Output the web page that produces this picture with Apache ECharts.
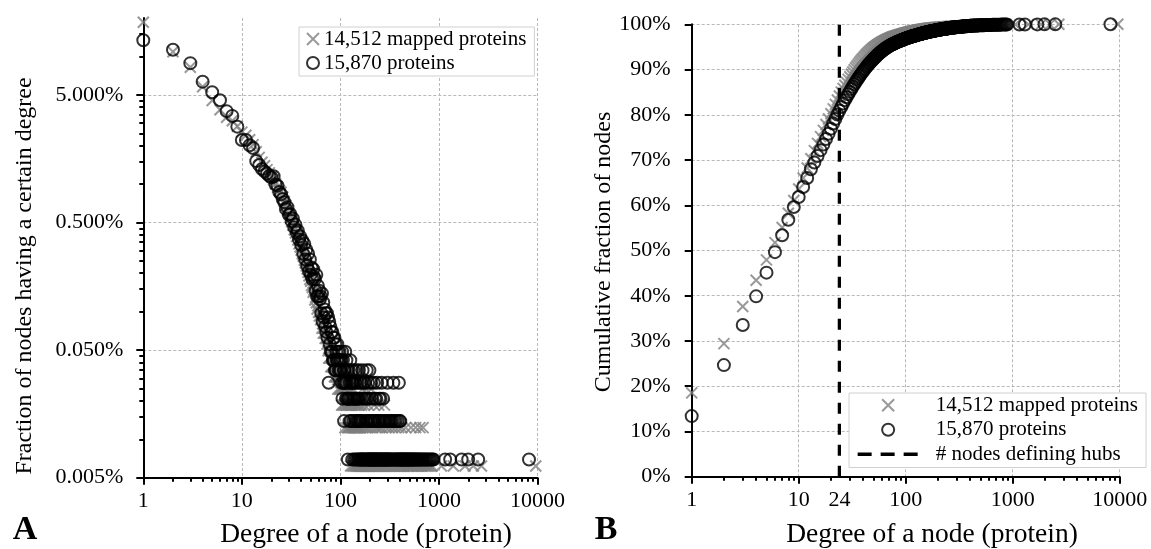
<!DOCTYPE html>
<html><head><meta charset="utf-8">
<script src="https://cdn.jsdelivr.net/npm/echarts@6/dist/echarts.min.js"></script>
<style>html,body{margin:0;padding:0;background:#fff}#c{width:1151px;height:549px}</style>
</head><body><div id="c"></div>
<script>
const FONT = "'Liberation Serif','Times New Roman',serif";
const NAME_MAPPED = '14,512 mapped proteins';
const NAME_ALL = '15,870 proteins';
const NAME_HUB = '# nodes defining hubs';
const X_TICKS = [1, 10, 100, 1000, 10000];
const X_LABELS_B = [1, 10, 24, 100, 1000, 10000];
const Y_TICKS_A = [0.005, 0.05, 0.5, 5];
const Y_TICKS_B = [0, 10, 20, 30, 40, 50, 60, 70, 80, 90, 100];
const HUB_DEGREE = 24;

// number of proteins (circles) having degree 1..160
const allCountsLow = [
 1930,1625,1277,914,755,653,537,493,406,319,
 319,290,276,218,203,189,181,174,167,162,
 166,143,140,125,120,110,104,92,95,83,
 84,74,77,66,69,60,62,53,56,48,
 52,41,49,37,44,33,41,30,37,28,
 32,26,31,27,26,21,28,19,23,19,
 21,18,19,14,20,12,17,13,15,11,
 14,10,14,9,13,4,12,8,11,7,
 10,7,10,6,9,6,9,5,8,5,
 7,6,8,6,7,5,6,7,5,6,
 5,6,4,7,3,6,4,5,2,4,5,7,4,3,6,4,3,5,1,3,
 3,5,4,2,3,6,4,2,3,5,4,1,3,4,2,5,3,1,4,3,
 2,4,1,3,5,2,3,1,4,2,3,1,2,5,1,3,2,4,1,2
];
// degrees above 160, grouped by number of proteins (circles)
const allRow5 = [168,185,197];
const allRow4 = [163,172,178,191,205,218,236,262,300,345,392];
const allRow3 = [166,175,182,188,199,210,224,231,248,256,271];
const allRow2 = [161,170,180,186,194,202,208,215,221,228,240,245,252,266,276,284,295,310,318,326,337,352,365,381,398,405];
const allRow1 = [162,164,167,169,173,176,179,183,187,189,192,195,198,200,203,206,209,212,214,217,
 219,223,226,229,233,235,238,242,246,250,254,258,260,264,268,273,278,281,287,290,
 293,298,303,306,313,316,321,329,333,340,348,356,361,369,374,385,389,395,402,409,
 414,420,427,433,440,446,453,461,468,475,483,491,499,508,516,524,533,542,551,561,
 571,582,594,606,618,631,645,660,676,692,709,727,746,766,787,810,835,862,880,
 1155,1300,1700,1980,2500,8200];

// number of mapped proteins (crosses) having degree 1..160
const mappedCountsLow = [
 3000,1762,1333,936,730,619,540,508,460,413,
 390,360,330,290,262,240,225,210,198,186,
 174,163,153,144,140,128,118,110,101,95,
 88,82,77,71,67,63,59,55,52,49,
 46,44,41,39,37,35,33,31,29,28,
 26,25,23,24,20,21,19,17,18,16,
 15,16,14,15,12,13,11,12,11,10,
 11,10,9,10,8,7,9,7,8,6,
 7,6,7,6,6,7,5,6,5,6,
 5,6,5,4,5,5,4,5,4,5,
 4,5,3,4,6,3,4,5,3,4,2,4,5,3,3,4,2,3,4,2,
 3,2,4,3,2,3,1,4,2,3,2,3,1,2,4,2,1,3,2,2,
 2,1,3,2,1,2,3,1,2,2,1,3,1,2,1,2,3,1,2,1
];
const mappedRow4 = [168,182,205];
const mappedRow3 = [164,175,192,220,245,280];
const mappedRow2 = [161,170,179,186,197,210,226,238,252,265,290,310,335,360,390,420,460,520,580,640,690];
const mappedRow1 = [162,163,166,167,171,173,176,177,180,183,185,188,190,193,195,199,201,204,207,212,
 214,217,222,224,229,232,235,241,243,248,250,255,258,262,268,271,275,284,287,294,
 299,304,315,320,328,341,347,354,366,372,378,384,396,403,410,415,427,434,442,449,
 468,476,485,494,503,512,530,541,552,563,593,607,622,655,671,708,727,748,770,795,
 820,850,1060,1400,1840,2230,2700,9600];

function collect(low, rows) {
  const pts = [];
  low.forEach((c, i) => { if (c > 0) pts.push([i + 1, c]); });
  rows.forEach(([c, list]) => list.forEach(d => pts.push([d, c])));
  pts.sort((a, b) => a[0] - b[0]);
  return pts;
}
function fractionData(pts) {
  const S = pts.reduce((s, p) => s + p[1], 0);
  return pts.map(p => [p[0], p[1] / S * 100]);
}
function cumulativeData(pts) {
  const S = pts.reduce((s, p) => s + p[1], 0);
  let acc = 0;
  return pts.map(p => { acc += p[1]; return [p[0], acc / S * 100]; });
}
function minorLog(majors, max) {
  const out = [];
  majors.forEach(m => { for (let k = 2; k <= 9; k++) { const v = +(m * k).toPrecision(6); if (v <= max) out.push(v); } });
  return out;
}
const allPts = collect(allCountsLow, [[5, allRow5], [4, allRow4], [3, allRow3], [2, allRow2], [1, allRow1]]);
const mappedPts = collect(mappedCountsLow, [[4, mappedRow4], [3, mappedRow3], [2, mappedRow2], [1, mappedRow1]]);
const X_MINOR = minorLog([1, 10, 100, 1000], 10000);
const Y_MINOR_A = minorLog(Y_TICKS_A, 15);

const CROSS = 'path://M0,0L10,10M10,0L0,10';
function gridLine() { return { show: true, showMinLine: false, lineStyle: { color: '#b8b8b8', width: 1, type: [3, 2] } }; }
function axLine() { return { show: true, onZero: false, lineStyle: { color: '#000', width: 2 } }; }
function hiddenLine() { return { show: true, onZero: false, lineStyle: { color: 'rgba(0,0,0,0)', width: 1 } }; }
function label(extra) { return Object.assign({ color: '#000', fontSize: 22, fontFamily: FONT }, extra); }
function tick(len, values) { return { show: true, inside: false, length: len, customValues: values, lineStyle: { color: '#000', width: 2 } }; }
const plain = v => String(Math.round(v));

const crossStyle = { color: 'transparent', borderColor: '#808080', borderWidth: 2 };
const ringStyle = { color: 'transparent', borderColor: '#000', borderWidth: 2 };

const option = {
  animation: false,
  textStyle: { fontFamily: FONT },
  grid: [
    { left: 143.3, right: 613.5, top: 18, bottom: 71.3, outerBoundsMode: 'none', containLabel: false },
    { left: 691.7, right: 31.3, top: 24.3, bottom: 72.3, outerBoundsMode: 'none', containLabel: false }
  ],
  xAxis: [
    { type: 'log', logBase: 10, gridIndex: 0, position: 'bottom', min: 1, max: 10000, axisLine: axLine(),
      axisTick: tick(7, X_TICKS), axisLabel: label({ customValues: X_TICKS, margin: 13, formatter: plain }),
      splitLine: gridLine(), minorTick: { show: false } },
    { type: 'log', logBase: 10, gridIndex: 0, position: 'bottom', min: 1, max: 10000, axisLine: hiddenLine(),
      axisTick: tick(4, X_MINOR), axisLabel: { show: false }, splitLine: { show: false } },
    { type: 'log', logBase: 10, gridIndex: 1, position: 'bottom', min: 1, max: 10000, axisLine: axLine(),
      axisTick: tick(7, X_TICKS), axisLabel: label({ customValues: X_LABELS_B, margin: 13, formatter: plain }),
      splitLine: gridLine(), minorTick: { show: false } },
    { type: 'log', logBase: 10, gridIndex: 1, position: 'bottom', min: 1, max: 10000, axisLine: hiddenLine(),
      axisTick: tick(4, X_MINOR), axisLabel: { show: false }, splitLine: { show: false } }
  ],
  yAxis: [
    { type: 'log', logBase: 10, gridIndex: 0, position: 'left', min: 0.005, max: 20, axisLine: axLine(),
      axisTick: tick(7, Y_TICKS_A),
      axisLabel: label({ customValues: Y_TICKS_A, margin: 20, formatter: v => Number(v).toFixed(3) + '%' }),
      splitLine: gridLine(), minorTick: { show: false } },
    { type: 'log', logBase: 10, gridIndex: 0, position: 'left', min: 0.005, max: 20, axisLine: hiddenLine(),
      axisTick: tick(4, Y_MINOR_A), axisLabel: { show: false }, splitLine: { show: false } },
    { type: 'value', gridIndex: 1, position: 'left', min: 0, max: 100, interval: 10, axisLine: axLine(),
      axisTick: tick(7, Y_TICKS_B),
      axisLabel: label({ customValues: Y_TICKS_B, margin: 21, formatter: '{value}%' }),
      splitLine: gridLine() }
  ],
  legend: [
    { orient: 'vertical', left: 299, top: 27, padding: [0, 8, 1, 7], itemGap: 0, itemWidth: 12, itemHeight: 12,
      selectedMode: false, borderColor: '#d0d0d0', borderWidth: 1, backgroundColor: '#fff', symbolKeepAspect: true,
      textStyle: { color: '#000', fontSize: 21, fontFamily: FONT, lineHeight: 24 },
      data: [ { name: NAME_MAPPED, icon: CROSS, itemStyle: crossStyle },
              { name: NAME_ALL, icon: 'circle', itemStyle: ringStyle } ] },
    { orient: 'vertical', left: 849, top: 393, padding: [0, 8, 1, 7], itemGap: 0, itemWidth: 61, itemHeight: 12,
      selectedMode: false, borderColor: '#d0d0d0', borderWidth: 1, backgroundColor: '#fff', symbolKeepAspect: true,
      textStyle: { color: '#000', fontSize: 21, fontFamily: FONT, lineHeight: 24.5, padding: [0, 0, 0, 12] },
      data: [ { name: NAME_MAPPED, icon: CROSS, itemStyle: crossStyle },
              { name: NAME_ALL, icon: 'circle', itemStyle: ringStyle },
              { name: NAME_HUB, itemStyle: { color: 'transparent', borderColor: 'transparent', borderWidth: 0, opacity: 0 },
                lineStyle: { color: '#000', width: 3.3, type: [14, 9] } } ] }
  ],
  series: [
    { name: NAME_MAPPED, type: 'scatter', xAxisIndex: 0, yAxisIndex: 0, symbol: CROSS, symbolSize: 11, symbolKeepAspect: true,
      itemStyle: crossStyle, data: fractionData(mappedPts), silent: true },
    { name: NAME_ALL, type: 'scatter', xAxisIndex: 0, yAxisIndex: 0, symbol: 'circle', symbolSize: 12,
      itemStyle: ringStyle, data: fractionData(allPts), silent: true },
    { name: NAME_MAPPED, type: 'scatter', xAxisIndex: 2, yAxisIndex: 2, symbol: CROSS, symbolSize: 11, symbolKeepAspect: true,
      itemStyle: crossStyle, data: cumulativeData(mappedPts), silent: true },
    { name: NAME_ALL, type: 'scatter', xAxisIndex: 2, yAxisIndex: 2, symbol: 'circle', symbolSize: 12,
      itemStyle: ringStyle, data: cumulativeData(allPts), silent: true },
    { name: NAME_HUB, type: 'line', xAxisIndex: 2, yAxisIndex: 2, symbol: 'none', silent: true, z: 5,
      lineStyle: { color: '#000', width: 3.3, type: [11, 10] }, itemStyle: { color: '#000' },
      data: [[HUB_DEGREE, 0], [HUB_DEGREE, 100]] }
  ],
  graphic: [
    { type: 'text', x: 25, y: 276, rotation: Math.PI / 2, silent: true,
      style: { text: 'Fraction of nodes having a certain degree', fill: '#000', fontSize: 24, fontFamily: FONT, textAlign: 'center', textVerticalAlign: 'middle', verticalAlign: 'middle' } },
    { type: 'text', x: 604, y: 252, rotation: Math.PI / 2, silent: true,
      style: { text: 'Cumulative fraction of nodes', fill: '#000', fontSize: 24, fontFamily: FONT, textAlign: 'center', textVerticalAlign: 'middle', verticalAlign: 'middle' } },
    { type: 'text', x: 366, y: 535, silent: true,
      style: { text: 'Degree of a node (protein)', fill: '#000', fontSize: 27.5, fontFamily: FONT, textAlign: 'center', textVerticalAlign: 'middle', verticalAlign: 'middle' } },
    { type: 'text', x: 932, y: 535, silent: true,
      style: { text: 'Degree of a node (protein)', fill: '#000', fontSize: 27.5, fontFamily: FONT, textAlign: 'center', textVerticalAlign: 'middle', verticalAlign: 'middle' } },
    { type: 'text', x: 25, y: 530, silent: true,
      style: { text: 'A', fill: '#000', fontSize: 34, fontWeight: 'bold', fontFamily: FONT, textAlign: 'center', textVerticalAlign: 'middle', verticalAlign: 'middle' } },
    { type: 'text', x: 606, y: 530, silent: true,
      style: { text: 'B', fill: '#000', fontSize: 34, fontWeight: 'bold', fontFamily: FONT, textAlign: 'center', textVerticalAlign: 'middle', verticalAlign: 'middle' } }
  ]
};
const chart = echarts.init(document.getElementById('c'), null, { renderer: 'canvas' });
chart.setOption(option);
</script>
</body></html>
